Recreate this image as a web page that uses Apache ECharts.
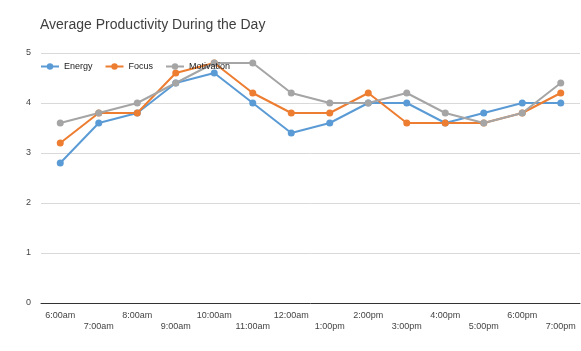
<!DOCTYPE html>
<html>
<head>
<meta charset="utf-8">
<script src="https://cdn.jsdelivr.net/npm/echarts@6/dist/echarts.min.js"></script>
<style>
  html, body { margin: 0; padding: 0; background: #fff; }
  #chart { width: 581px; height: 351px; }
</style>
</head>
<body>
<div id="chart"></div>
<script>
// data
const hours = ['6:00am', '7:00am', '8:00am', '9:00am', '10:00am', '11:00am', '12:00am',
  '1:00pm', '2:00pm', '3:00pm', '4:00pm', '5:00pm', '6:00pm', '7:00pm'];
const energy = [2.8, 3.6, 3.8, 4.4, 4.6, 4.0, 3.4, 3.6, 4.0, 4.0, 3.6, 3.8, 4.0, 4.0];
const focus = [3.2, 3.8, 3.8, 4.6, 4.8, 4.2, 3.8, 3.8, 4.2, 3.6, 3.6, 3.6, 3.8, 4.2];
const motivation = [3.6, 3.8, 4.0, 4.4, 4.8, 4.8, 4.2, 4.0, 4.0, 4.2, 3.8, 3.6, 3.8, 4.4];

const font = 'Liberation Sans, Arial, sans-serif';

const makeLine = (name, data, color) => ({
  name: name,
  type: 'line',
  data: data,
  symbol: 'circle',
  symbolSize: 7,
  itemStyle: { color: color },
  lineStyle: { color: color, width: 2 },
  z: 2
});

const myChart = echarts.init(document.getElementById('chart'));
const option = {
  animation: false,
  title: {
    text: 'Average Productivity During the Day',
    left: 35,
    top: 13,
    textStyle: { fontFamily: font, fontSize: 14, fontWeight: 'normal', color: '#404040' }
  },
  legend: {
    left: 35,
    top: 57,
    itemWidth: 18,
    itemHeight: 8,
    itemGap: 12,
    textStyle: { fontFamily: font, fontSize: 9, color: '#222' },
    data: ['Energy', 'Focus', 'Motivation']
  },
  grid: {
    left: 41,
    right: 1,
    top: 53,
    bottom: 48
  },
  xAxis: {
    type: 'category',
    data: hours,
    boundaryGap: true,
    axisLine: { lineStyle: { color: '#333', width: 1 } },
    axisTick: { show: false },
    axisLabel: {
      interval: 0,
      margin: 7,
      fontFamily: font,
      fontSize: 9,
      color: '#444',
      lineHeight: 11,
      formatter: (v, i) => (i % 2 ? '\n' + v : v)
    }
  },
  yAxis: {
    type: 'value',
    min: 0,
    max: 5,
    interval: 1,
    axisLine: { show: false },
    axisTick: { show: false },
    axisLabel: { margin: 10, fontFamily: font, fontSize: 9, color: '#444' },
    splitLine: { lineStyle: { color: '#d9d9d9', width: 1 } }
  },
  series: [
    makeLine('Energy', energy, '#5b9bd5'),
    makeLine('Focus', focus, '#ed7d31'),
    makeLine('Motivation', motivation, '#a5a5a5')
  ]
};
myChart.setOption(option);
</script>
</body>
</html>
